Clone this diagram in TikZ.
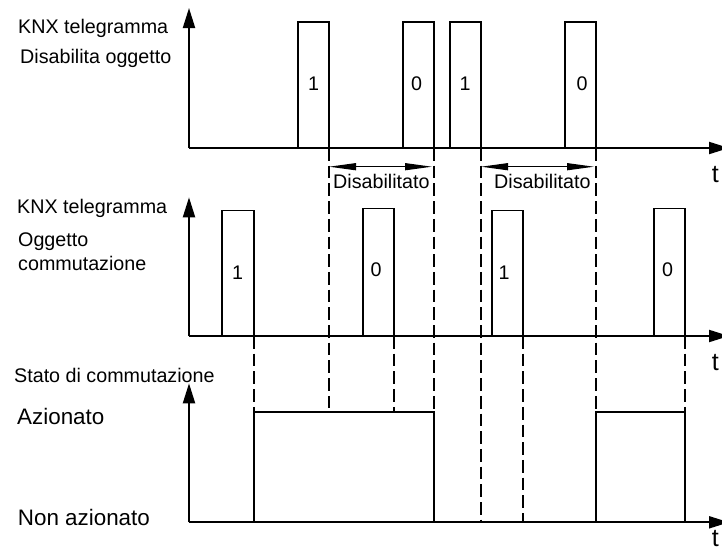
\documentclass[tikz,border=0pt]{standalone}
\usepackage{fontspec}
\setmainfont{Liberation Sans}
\usetikzlibrary{arrows.meta}

\begin{document}
\begin{tikzpicture}[x=1pt,y=-1pt,
    txt/.style={font=\fontsize{19.7}{23}\selectfont,inner sep=0pt,anchor=base west},
    big/.style={font=\fontsize{22.4}{26}\selectfont,inner sep=0pt,anchor=base west},
    bit/.style={font=\fontsize{19.7}{23}\selectfont,inner sep=0pt,anchor=base},
    tlbl/.style={font=\fontsize{25}{28}\selectfont,inner sep=0pt,anchor=base east},
    axis/.style={line width=2pt,-{Triangle[length=20pt,width=12pt]}},
    sig/.style={line width=1.2pt},
    guide/.style={line width=1.2pt,dash pattern=on 12.7pt off 5pt},
    span/.style={line width=1.2pt,{Triangle[length=27pt,width=7pt]}-{Triangle[length=27pt,width=7pt]}}]
    \useasboundingbox (0,0) rectangle (722,550);
    \clip (0,0) rectangle (722,550);

    % Telegrammi disabilita oggetto
    \draw[sig] (298,148) -- (298,22) -- (329,22) -- (329,148);
    \draw[sig] (403,148) -- (403,22) -- (434,22) -- (434,148);
    \draw[sig] (450,148) -- (450,22) -- (481,22) -- (481,148);
    \draw[sig] (565,148) -- (565,22) -- (596,22) -- (596,148);
    \node[bit] (d1) at (313.5,90.7) {1};
    \node[bit] (d2) at (416.5,90.7) {0};
    \node[bit] (d3) at (465,90.7) {1};
    \node[bit] (d4) at (582,90.7) {0};

    % Telegrammi oggetto commutazione
    \draw[sig] (222,336) -- (222,210.7) -- (254,210.7) -- (254,336);
    \draw[sig] (363,336) -- (363,208.3) -- (394,208.3) -- (394,336);
    \draw[sig] (492,336) -- (492,210.7) -- (523,210.7) -- (523,336);
    \draw[sig] (654,336) -- (654,208.3) -- (685,208.3) -- (685,336);
    \node[bit] (c1) at (237.5,279) {1};
    \node[bit] (c2) at (376,276) {0};
    \node[bit] (c3) at (504,279) {1};
    \node[bit] (c4) at (667.5,276) {0};

    % Stato di commutazione
    \draw[sig] (254,522) -- (254,412) -- (434,412) -- (434,522);
    \draw[sig] (596,522) -- (596,412) -- (685,412) -- (685,522);

    % Linee tratteggiate
    \draw[guide] (329,148) -- (329,408);
    \draw[guide] (434,148) -- (434,412);
    \draw[guide] (481,148) -- (481,522);
    \draw[guide] (596,148) -- (596,412);
    \draw[guide] (254,336) -- (254,412);
    \draw[guide] (394,336) -- (394,412);
    \draw[guide] (523,336) -- (523,522);
    \draw[guide] (685,336) -- (685,412);

    % Intervalli disabilitati
    \coordinate (a1) at (329,166.7);
    \coordinate (b1) at (432,166.7);
    \coordinate (a2) at (481,166.7);
    \coordinate (b2) at (594,166.7);
    \draw[span] (a1) -- (b1);
    \draw[span] (a2) -- (b2);
    \node[txt] (dis1) at (333,188.3) {Disabilitato};
    \node[txt] (dis2) at (494,188.3) {Disabilitato};

    % Assi
    \draw[axis] (189,148) -- (729,148);
    \draw[axis] (189,148) -- (189,8);
    \draw[axis] (189,336) -- (729,336);
    \draw[axis] (189,336) -- (189,197.3);
    \draw[axis] (189,522.3) -- (729,522.3);
    \draw[axis] (189,522.3) -- (189,383.3);
    \node[tlbl] (t1) at (719,182) {t};
    \node[tlbl] (t2) at (719,370) {t};
    \node[tlbl] (t3) at (719,546) {t};

    % Etichette
    \node[txt] (knx1) at (18,33.3) {KNX telegramma};
    \node[txt] (dis) at (20,63.3) {Disabilita oggetto};
    \node[txt] (knx2) at (17,213.3) {KNX telegramma};
    \node[txt] (ogg) at (18,246.7) {Oggetto};
    \node[txt] (comm) at (18,270.7) {commutazione};
    \node[txt] (stato) at (14,382.7) {Stato di commutazione};
    \node[big] (on) at (17,424) {Azionato};
    \node[big] (off) at (17.7,525.7) {Non azionato};
\end{tikzpicture}
\end{document}
